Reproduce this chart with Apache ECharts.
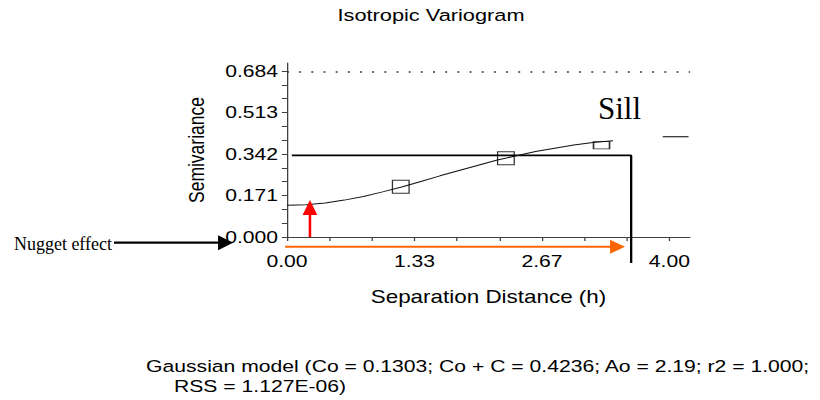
<!DOCTYPE html>
<html>
<head>
<meta charset="utf-8">
<script src="https://cdn.jsdelivr.net/npm/echarts@6/dist/echarts.min.js"></script>
<style>
html, body { margin: 0; padding: 0; background: #fff; overflow: hidden; }
/* the reference picture is stretched horizontally; reproduce that stretch */
#main { width: 640px; height: 400px; transform: scaleX(1.28125); transform-origin: 0 0; }
</style>
</head>
<body>
<div id="main"></div>
<script>
// ---------- data ----------
const curveH     = [0, 0.2, 0.4, 0.6, 0.8, 1.0, 1.2, 1.4, 1.6, 1.8, 2.0, 2.2, 2.4, 2.6, 2.8, 3.0, 3.2, 3.41];
const curveGamma = [0.131, 0.133, 0.140, 0.152, 0.167, 0.186, 0.206, 0.229, 0.252, 0.274, 0.296, 0.317, 0.335, 0.352, 0.366, 0.379, 0.389, 0.397];

const sampleH     = [1.19, 2.29, 3.29];
const sampleGamma = [0.207, 0.324, 0.393];

const xTickValues  = [0, 0.4444, 0.8889, 1.3333, 1.7778, 2.2222, 2.6667, 3.1111, 3.5556, 4.0];
const xLabelValues = [0, 1.3333, 2.6667, 4.0];
const yTickValues  = [0, 0.057, 0.114, 0.171, 0.228, 0.285, 0.342, 0.399, 0.456, 0.513, 0.570, 0.627, 0.684];
const yLabelValues = [0, 0.171, 0.342, 0.513, 0.684];

// annotation lines (data units): [start, end]
const sillH        = [0.05, 3.6, 3.6];
const sillGamma    = [0.336, 0.336, -0.107];
const sillDashH    = [3.93, 4.2];
const sillDashG    = [0.413, 0.413];
const nuggetH      = [0.24, 0.24];
const nuggetG      = [0.0, 0.152];
const rangeH       = [-0.02, 3.536];
const rangeG       = [-0.04, -0.04];
const nuggetLblH   = [-1.81, -0.564];
const nuggetLblG   = [-0.0235, -0.0235];

// model summary
const modelName = 'Gaussian';
const co = '0.1303', coPlusC = '0.4236', ao = '2.19', r2 = '1.000', rss = '1.127E-06';

const xMax = 4.215, yMax = 0.717;
const S = 1.28125; // horizontal stretch of reference

// ---------- chart ----------
const zip = (a, b) => a.map((v, i) => [v, b[i]]);
const FONT = '"Liberation Sans", Arial, sans-serif';
const SERIF = '"Liberation Serif", "Times New Roman", serif';

function arrowSeries(name, hs, gs, color, width, headLen, headW) {
  return {
    name: name, type: 'custom', clip: false, z: 5, silent: true,
    data: [[hs[0], gs[0], hs[1], gs[1]]],
    renderItem: function (params, api) {
      const p1 = api.coord([api.value(0), api.value(1)]);
      const p2 = api.coord([api.value(2), api.value(3)]);
      const dx = p2[0] - p1[0], dy = p2[1] - p1[1];
      const len = Math.hypot(dx, dy) || 1;
      const ux = dx / len, uy = dy / len;
      const bx = p2[0] - ux * headLen, by = p2[1] - uy * headLen;
      const nx = -uy, ny = ux;
      return {
        type: 'group',
        children: [
          { type: 'line', shape: { x1: p1[0], y1: p1[1], x2: bx + ux, y2: by + uy },
            style: { stroke: color, lineWidth: width } },
          { type: 'polygon',
            shape: { points: [[p2[0], p2[1]], [bx + nx * headW / 2, by + ny * headW / 2], [bx - nx * headW / 2, by - ny * headW / 2]] },
            style: { fill: color } }
        ]
      };
    }
  };
}

const chart = echarts.init(document.getElementById('main'), null, { renderer: 'svg' });
chart.setOption({
  animation: false,
  backgroundColor: '#fff',
  textStyle: { fontFamily: FONT },
  title: [
    { text: 'Isotropic Variogram', left: 336.4, top: 6, padding: 0, textAlign: 'center',
      textStyle: { fontSize: 17, fontWeight: 'normal', color: '#000', fontFamily: FONT } },
    { text: modelName + ' model (Co = ' + co + '; Co + C = ' + coPlusC + '; Ao = ' + ao + '; r2 = ' + r2 + ';',
      left: 114, top: 358, padding: 0,
      textStyle: { fontSize: 16.5, fontWeight: 'normal', color: '#000', fontFamily: FONT } },
    { text: 'RSS = ' + rss + ')', left: 135.8, top: 377.5, padding: 0,
      textStyle: { fontSize: 16.5, fontWeight: 'normal', color: '#000', fontFamily: FONT } }
  ],
  grid: { left: 224, right: 640 - 224 - 314.5, top: 63, bottom: 163, outerBoundsMode: 'none', containLabel: false },
  xAxis: {
    type: 'value', min: 0, max: xMax,
    name: 'Separation Distance (h)', nameLocation: 'middle', nameGap: 51,
    nameTextStyle: { fontSize: 17.5, color: '#000', fontFamily: FONT },
    axisLine: { show: true, lineStyle: { color: '#404040', width: 1 } },
    axisTick: { show: true, customValues: xTickValues, length: 4, lineStyle: { color: '#404040' } },
    axisLabel: { customValues: xLabelValues, formatter: v => Number(v).toFixed(2),
      fontSize: 16.5, color: '#000', margin: 16, fontFamily: FONT },
    splitLine: { show: false }
  },
  yAxis: {
    type: 'value', min: 0, max: yMax,
    name: 'Semivariance', nameLocation: 'middle', nameGap: 61.5,
    nameTextStyle: { fontSize: 17.5, color: '#000', fontFamily: FONT },
    axisLine: { show: true, lineStyle: { color: '#404040', width: 1 } },
    axisTick: { show: true, customValues: yTickValues, length: 4, lineStyle: { color: '#404040' } },
    axisLabel: { customValues: yLabelValues, formatter: v => Number(v).toFixed(3),
      fontSize: 16.5, color: '#000', margin: 7, fontFamily: FONT },
    splitLine: { show: false }
  },
  series: [
    {
      name: 'model', type: 'line', data: zip(curveH, curveGamma), symbol: 'none',
      lineStyle: { color: '#111', width: 1 }, z: 3,
      markLine: {
        silent: true, symbol: 'none', label: { show: false },
        lineStyle: { type: [1.5, 8], color: '#333', width: 1.5 },
        data: [{ yAxis: yLabelValues[yLabelValues.length - 1] }]
      }
    },
    {
      name: 'samples', type: 'scatter', z: 4,
      data: sampleH.map((h, i) => i === 2
        ? { value: [h, sampleGamma[i]], symbolSize: [12.5, 7.3], symbolOffset: [0, 3.6] }
        : { value: [h, sampleGamma[i]] }),
      symbol: 'rect', symbolSize: 13,
      itemStyle: { color: 'rgba(0,0,0,0)', borderColor: '#000', borderWidth: 1 }
    },
    {
      name: 'sill', type: 'line', data: zip(sillH, sillGamma), symbol: 'none', clip: false,
      lineStyle: { color: '#000', width: 1.8 }, z: 2
    },
    {
      name: 'sillDash', type: 'line', data: zip(sillDashH, sillDashG), symbol: 'none', clip: false,
      lineStyle: { color: '#000', width: 1 }
    },
    arrowSeries('nugget', nuggetH, nuggetG, '#ff0000', 2, 15, 11.5),
    arrowSeries('range', rangeH, rangeG, '#ff6600', 2, 11.7, 14),
    arrowSeries('nuggetLabel', nuggetLblH, nuggetLblG, '#000', 2.2, 11.7, 15)
  ],
  graphic: [
    { type: 'text', x: 466.7, y: 108.5, scaleX: 1 / S, z: 10,
      style: { text: 'Sill', fontSize: 31, fontFamily: SERIF, fill: '#000', align: 'left', verticalAlign: 'middle' } },
    { type: 'text', x: 87.4, y: 244, scaleX: 1 / S, z: 10,
      style: { text: 'Nugget effect', fontSize: 18, fontFamily: SERIF, fill: '#000', align: 'right', verticalAlign: 'middle' } }
  ]
});
</script>
</body>
</html>
